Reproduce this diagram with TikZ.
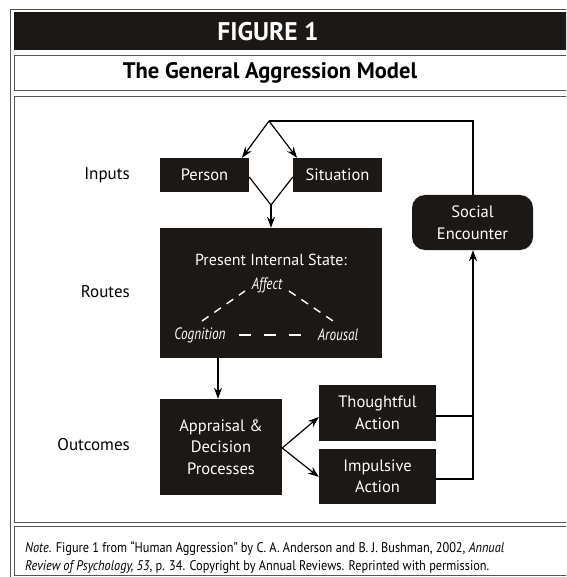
\documentclass[tikz,border=0pt]{standalone}
\usepackage{fontspec}
\setmainfont{PT Sans}
\newfontfamily\condit{PT Sans}[FakeStretch=0.8]
\newfontfamily\notefont{PT Sans}[FakeStretch=0.88]
\usetikzlibrary{arrows.meta,calc}
\definecolor{boxblack}{HTML}{1C1815}
\definecolor{framegray}{HTML}{555555}
\tikzset{
  blk/.style={fill=boxblack, text=white, inner sep=0pt, align=center, font=\fontsize{16.5}{21.5}\selectfont},
  lbl/.style={anchor=east, font=\fontsize{17}{20}\selectfont, inner sep=0pt},
  itl/.style={text=white, font=\condit\itshape\fontsize{16.5}{18}\selectfont, inner sep=1pt},
  conn/.style={line width=1.2pt, draw=black},
  arr/.style={conn, -{Stealth[length=11pt,width=8pt]}},
  dsh/.style={draw=white, line width=1.4pt, dash pattern=on 9pt off 9pt},
  frm/.style={draw=framegray, line width=0.8pt}
}
\begin{document}
\begin{tikzpicture}[x=1pt,y=-1pt]
\useasboundingbox (0,0) rectangle (566,577);
\begin{scope}
\clip (0,0) rectangle (566,577);
% frame
\draw[frm] (10,9) rectangle (600,600);
\fill[boxblack] (14,12) rectangle (600,50);
\draw[frm] (14,55) rectangle (600,90);
\draw[frm] (14,96) rectangle (600,522);
\draw[frm] (14,526) rectangle (600,575);
\end{scope}
\node[text=white, font=\bfseries\fontsize{25.5}{28}\selectfont, inner sep=0pt] (fig) at (268,32) {FIGURE 1};
\node[font=\bfseries\fontsize{22.5}{25}\selectfont, inner sep=0pt] (ttl) at (270,73) {The General Aggression Model};
% labels
\node[lbl] (inp) at (130,175) {Inputs};
\node[lbl] (rts) at (130,292) {Routes};
\node[lbl] (out) at (130,445) {Outcomes};
% boxes
\node[blk, minimum width=89pt, minimum height=34pt] (per) at (204.5,175) {Person};
\node[blk, minimum width=89pt, minimum height=34pt] (sit) at (337.5,175) {Situation};
\node[blk, minimum width=222pt, minimum height=130pt] (pis) at (271,293) {};
\node[text=white, font=\fontsize{16}{18}\selectfont, inner sep=0pt] (pist) at (271,260) {Present Internal State:};
\node[itl] (aff) at (267,285) {Affect};
\node[itl] (cog) at (200,335) {Cognition};
\node[itl] (aro) at (338,335) {Arousal};
\node[blk, minimum width=122pt, minimum height=96pt] (app) at (221,447) {Appraisal \&\\Decision\\Processes};
\node[blk, minimum width=117pt, minimum height=56pt] (tho) at (377.5,413) {Thoughtful\\Action};
\node[blk, minimum width=117pt, minimum height=55pt] (imp) at (377.5,476.5) {Impulsive\\Action};
\node[blk, rounded corners=13pt, minimum width=121pt, minimum height=55pt] (soc) at (472.5,222.5) {Social\\Encounter};
% dashes
\draw[dsh, dash pattern=on 8pt off 7pt] ($(cog)+(2,-14)$) -- ($(aff)+(-22,6)$);
\draw[dsh, dash pattern=on 8pt off 7pt] ($(aff)+(22,6)$) -- ($(aro)+(-5,-14)$);
\draw[dsh, dash pattern=on 12pt off 13pt] ($(cog.east)+(12,0)$) -- ($(aro.west)+(-4,0)$);
% connectors
\coordinate (j1) at (269,121);
\coordinate (j2) at (271,205);
\coordinate (sr) at (473,121);
\draw[arr] (j1) -- (per.north -| 242,0);
\draw[arr] (j1) -- (sit.north -| 297,0);
\draw[conn] ($(per.east)+(0,2)$) -- (j2) -- ($(sit.west)+(0,2)$);
\draw[arr] (j2) -- (pis.north -| j2);
\draw[arr] (pis.south -| 218,0) -- (app.north -| 218,0);
\draw[arr] ($(app.east)+(0,1)$) -- ($(tho.west)+(0,4)$);
\draw[arr] ($(app.east)+(0,1)$) -- ($(imp.west)+(0,0.5)$);
\draw[conn] ($(tho.east)+(0,3)$) -- ++(37,0);
\draw[arr] ($(imp.east)+(0,2.5)$) -| (soc.south -| sr);
\draw[conn] (soc.north -| sr) -- (sr) -- (j1);
% note
\node[anchor=north west, align=left, inner sep=0pt, font=\notefont\fontsize{14}{18.5}\selectfont] (note) at (25,541) {\textit{Note}. Figure 1 from “Human Aggression” by C. A. Anderson and B. J. Bushman, 2002, \textit{Annual}\\\textit{Review of Psychology, 53}, p. 34. Copyright by Annual Reviews. Reprinted with permission.};
\end{tikzpicture}
\end{document}
